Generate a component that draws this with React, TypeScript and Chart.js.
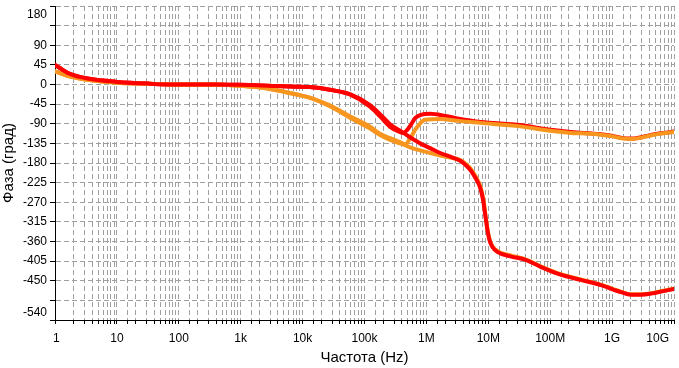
import { useEffect, useRef } from "react";
import { Chart, registerables } from "chart.js";

Chart.register(...registerables);

// ---- data (frequency in Hz, phase in degrees) ----
const redLowerFreq = [1, 1.7, 3.6, 10, 33, 114, 400, 740, 1.8e3, 3.8e3, 8e3, 1.3e4, 2.76e4, 5.8e4, 1.23e5, 1.78e5, 2.59e5, 3.76e5, 5.46e5, 7.93e5, 1.15e6, 1.67e6, 2.5e6, 3.53e6, 4.4e6, 5.13e6, 6.18e6, 7.45e6, 8.3e6, 8.98e6, 9.67e6, 1.04e7, 1.16e7, 1.4e7, 2.28e7, 4e7, 7e7, 1.47e8, 3.11e8, 6.56e8, 1.38e9, 2.01e9, 2.92e9, 4.5e9, 6.15e9, 1e10];
const redLowerPhase = [45, 25, 13, 6, 2, 0, 0, -0.5, -1.5, -3.5, -5, -6, -12, -22, -47, -68, -91, -106, -121, -135, -146, -157, -166, -175, -186, -196, -214, -238, -268, -302, -333, -356, -372, -384, -394, -402, -418, -436, -448, -460, -476, -482, -482, -479, -475, -469];

const redUpperFreq = [1, 1.7, 3.6, 10, 33, 114, 400, 740, 1.8e3, 3.8e3, 8e3, 1.3e4, 2.76e4, 5.8e4, 1.23e5, 1.78e5, 2.59e5, 3.76e5, 4.25e5, 4.9e5, 5.46e5, 6.1e5, 6.58e5, 7.93e5, 1.15e6, 2.02e6, 3.53e6, 7.45e6, 3.3e7, 1.01e8, 2.14e8, 6.56e8, 1.03e9, 1.5e9, 2.0e9, 2.7e9, 3.6e9, 5.9e9, 1e10];
const redUpperPhase = [45, 25, 13, 6, 2, 0, 0, -0.5, -1.5, -3.5, -5, -6, -12, -23, -51, -73, -97, -109, -111, -104, -95, -84, -77, -70, -67, -72, -79, -86, -93, -104, -109, -114, -118, -123, -124, -122, -118, -112, -108];

const orangeLowerFreq = [1, 1.7, 3.6, 10, 33, 114, 400, 740, 1.8e3, 3.8e3, 8e3, 1.3e4, 2.76e4, 5.8e4, 1.23e5, 1.78e5, 2.59e5, 3.76e5, 4.53e5, 5.46e5, 7.93e5, 1.15e6, 1.67e6, 2.5e6, 3.53e6, 4.4e6, 5.13e6, 6.18e6, 7.45e6, 8.3e6, 8.98e6, 9.67e6, 1.04e7, 1.16e7, 1.4e7, 2.28e7, 4e7, 7e7, 1.47e8, 3.11e8, 6.56e8, 1.38e9, 2.01e9, 2.92e9, 4.5e9, 6.15e9, 1e10];
const orangeLowerPhase = [30, 19, 10, 4, 2, 0, 0, -2, -6, -13, -23, -30, -50, -76, -101, -116, -127, -135, -139, -144, -151, -157, -163, -168, -173, -183, -192, -210, -234, -262, -298, -330, -353, -370, -382, -392, -401, -417, -435, -447, -459, -475, -481, -481, -478, -474, -468];

const orangeUpperFreq = [1, 1.7, 3.6, 10, 33, 114, 400, 740, 1.8e3, 3.8e3, 8e3, 1.3e4, 2.76e4, 5.8e4, 1.23e5, 1.78e5, 2.59e5, 3.76e5, 4.53e5, 5.46e5, 6.58e5, 7.93e5, 9.55e5, 1.67e6, 3.53e6, 7.45e6, 3.3e7, 1.01e8, 2.14e8, 3.11e8, 6.56e8, 1.03e9, 1.5e9, 2.0e9, 2.7e9, 3.6e9, 5.9e9, 1e10];
const orangeUpperPhase = [30, 19, 10, 4, 2, 0, 0, -2, -6, -13, -23, -30, -48, -73, -97, -113, -123, -132, -137, -124, -104, -89, -81, -79, -84, -88, -96, -106, -111, -112, -115, -119, -124, -125, -123, -119, -113, -109];

// ---- tick labels ----
const xLabelValues = [1, 10, 100, 1e3, 1e4, 1e5, 1e6, 1e7, 1e8, 1e9, 1e10];
const xLabelTexts = ["1", "10", "100", "1k", "10k", "100k", "1M", "10M", "100M", "1G", "10G"];
const yLabelValues = [180, 90, 45, 0, -45, -90, -135, -180, -225, -270, -315, -360, -405, -450, -540];
const yLabelTexts = ["180", "90", "45", "0", "-45", "-90", "-135", "-180", "-225", "-270", "-315", "-360", "-405", "-450", "-540"];

const xTitle = "Частота (Hz)";
const yTitle = "Фаза (град)";

const RED = "#ff0000";
const ORANGE = "#f7961e";
const FONT = '"Liberation Sans", Arial, sans-serif';

function toPoints(fs: number[], ps: number[]) {
  return fs.map((f, i) => ({ x: f, y: ps[i] }));
}

const labelsPlugin = {
  id: "customLabels",
  afterDraw(chart: any) {
    const ctx = chart.ctx as CanvasRenderingContext2D;
    const xs = chart.scales.x;
    const ys = chart.scales.y;
    const area = chart.chartArea;
    ctx.save();
    ctx.fillStyle = "#000";
    ctx.font = `12px ${FONT}`;
    ctx.textAlign = "right";
    ctx.textBaseline = "middle";
    yLabelValues.forEach((v, i) => {
      let py = ys.getPixelForValue(v);
      py = Math.max(area.top + 9, Math.min(area.bottom - 7, py));
      ctx.fillText(yLabelTexts[i], 47, py);
    });
    ctx.textAlign = "center";
    ctx.textBaseline = "alphabetic";
    xLabelValues.forEach((v, i) => {
      const t = xLabelTexts[i];
      const w = ctx.measureText(t).width;
      let px = xs.getPixelForValue(v);
      px = Math.min(px, area.right - 5 - w / 2);
      px = Math.max(px, area.left - 2 + w / 2);
      ctx.fillText(t, px, 342);
    });
    ctx.font = `15px ${FONT}`;
    ctx.fillText(xTitle, (area.left + area.right) / 2, 362);
    ctx.translate(13, (area.top + area.bottom) / 2);
    ctx.rotate(-Math.PI / 2);
    ctx.fillText(yTitle, 0, 0);
    ctx.restore();
  },
};

export default function App() {
  const ref = useRef<HTMLCanvasElement | null>(null);
  useEffect(() => {
    if (!ref.current) return;
    const common = {
      pointRadius: 0,
      borderWidth: 4,
      fill: false,
      cubicInterpolationMode: "monotone" as const,
      borderJoinStyle: "round" as const,
      borderCapStyle: "round" as const,
    };
    const chart = new Chart(ref.current, {
      type: "line",
      data: {
        datasets: [
          { ...common, label: "red2", data: toPoints(redLowerFreq, redLowerPhase), borderColor: RED },
          { ...common, label: "orange1", data: toPoints(orangeUpperFreq, orangeUpperPhase), borderColor: ORANGE },
          { ...common, label: "red1", data: toPoints(redUpperFreq, redUpperPhase), borderColor: RED },
          { ...common, label: "orange2", data: toPoints(orangeLowerFreq, orangeLowerPhase), borderColor: ORANGE },
        ],
      },
      options: {
        animation: false,
        responsive: false,
        devicePixelRatio: 1,
        layout: { padding: { top: 6, right: 5, left: 0, bottom: 0 } },
        plugins: { legend: { display: false }, tooltip: { enabled: false } },
        scales: {
          x: {
            type: "logarithmic",
            min: 1,
            max: 1e10,
            ticks: { display: false },
            grid: { color: "#a0a0a0", lineWidth: 1, tickColor: "#000", tickLength: 4 },
            border: { display: true, color: "#000", width: 1, dash: [5, 3] },
            afterFit: (s: any) => { s.height = 48; },
          },
          y: {
            type: "linear",
            min: -540,
            max: 180,
            ticks: { display: false, stepSize: 45 },
            grid: { color: "#a0a0a0", lineWidth: 1, tickColor: "#000", tickLength: 5 },
            border: { display: true, color: "#000", width: 1, dash: [5, 3] },
            afterFit: (s: any) => { s.width = 55; },
          },
        },
      },
      plugins: [labelsPlugin],
    });
    return () => chart.destroy();
  }, []);
  return (
    <div style={{ position: "absolute", left: 0, top: 0, width: 679, height: 368, background: "#fff" }}>
      <canvas ref={ref} width={679} height={368} style={{ display: "block" }} />
    </div>
  );
}
